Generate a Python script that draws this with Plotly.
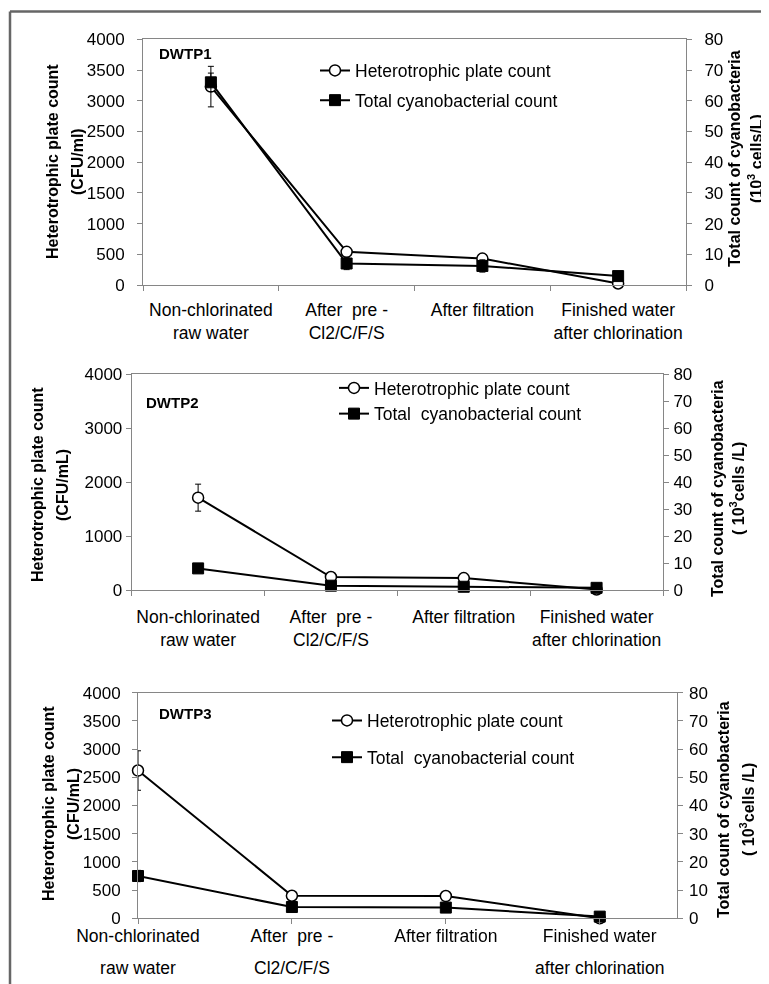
import plotly.graph_objects as go

# ---------------- data ----------------
cat_line1 = ["Non-chlorinated", "After  pre -", "After filtration", "Finished water"]
cat_line2 = ["raw water", "Cl2/C/F/S", "", "after chlorination"]
categories = [a + " " + b for a, b in zip(cat_line1, cat_line2)]
cat_index = list(range(len(categories)))

plant_labels = ["DWTP1", "DWTP2", "DWTP3"]
hpc_names = ["Heterotrophic plate count"] * 3
cyano_names = ["Total cyanobacterial count", "Total  cyanobacterial count", "Total  cyanobacterial count"]
left_titles = [["Heterotrophic plate count", "(CFU/ml)"],
               ["Heterotrophic plate count", "(CFU/mL)"],
               ["Heterotrophic plate count", "(CFU/mL)"]]
right_titles = [["Total count of cyanobacteria", "(10<sup>3</sup> cells/L)"],
                ["Total count of cyanobacteria", "( 10<sup>3</sup>cells /L)"],
                ["Total count of cyanobacteria", "( 10<sup>3</sup>cells /L)"]]

hpc1 = [3230, 540, 430, 25]
hpc1_err = [330, 30, 40, 5]
cyano1 = [66, 7.0, 6.2, 2.9]
cyano1_err = [3, 2, 2, 0.5]

hpc2 = [1710, 240, 220, 10]
hpc2_err = [250, 20, 30, 0]
cyano2 = [8.0, 1.6, 1.2, 0.8]
cyano2_err = [0, 0.5, 0.5, 0]

hpc3 = [2620, 400, 395, 0]
hpc3_err = [350, 20, 20, 0]
cyano3 = [15.0, 4.0, 3.8, 0.6]
cyano3_err = [2, 0.3, 0.3, 0]

left_dticks = [500, 1000, 500]
right_ticks = [0, 10, 20, 30, 40, 50, 60, 70, 80]

# ---------------- layout geometry (reference pixels) ----------------
OFF = 8                      # page body margin
W, H = 769 - OFF, 984 - OFF
FONT = "Liberation Sans, Arial, sans-serif"
AXC = "#868686"
TICK_FS = 17
LAB_FS = 17.5
TITLE_FS = 16

panels = [
    dict(x0=143, x1=686, y0=39.3, y1=285, xrange=[-0.5, 3.5], tickson="boundaries",
         std1=9, std2=27, lstd=9, rstd=9,
         leg=(315, 52.5, 4), lab=(157, 54),
         lt=(52, 77, 162), rt=(735, 755, 159)),
    dict(x0=131.7, x1=663, y0=374, y1=590, xrange=[-0.5, 3.5], tickson="boundaries",
         std1=11, std2=29, lstd=0, rstd=1,
         leg=(334, 370, 0), lab=(144, 403),
         lt=(37, 62, 485), rt=(717, 737, 489)),
    dict(x0=138, x1=676.7, y0=692.7, y1=918.3, xrange=[0, 3.5], tickson="labels",
         std1=-3, std2=29, lstd=8, rstd=3,
         leg=(327, 702.5, 11), lab=(157, 713),
         lt=(48, 73, 804), rt=(723, 747, 810)),
]

data = [(hpc1, hpc1_err, cyano1, cyano1_err),
        (hpc2, hpc2_err, cyano2, cyano2_err),
        (hpc3, hpc3_err, cyano3, cyano3_err)]

fig = go.Figure()
layout = dict(width=W, height=H, margin=dict(l=0, r=0, t=0, b=0, autoexpand=False),
              paper_bgcolor="white", plot_bgcolor="white",
              font=dict(family=FONT, size=TICK_FS, color="black"),
              showlegend=True)
annotations = []
shapes = []

def px(x):
    return (x - OFF) / W

def py(y):
    return 1 - (y - OFF) / H

for i, (p, d) in enumerate(zip(panels, data)):
    xa = "x" if i == 0 else f"x{i+1}"
    xo = f"x{i+4}"
    ya = "y" if i == 0 else f"y{2*i+1}"
    yb = f"y{2*i+2}"
    leg = "legend" if i == 0 else f"legend{i+1}"
    hpc, hpc_err, cy, cy_err = d

    fig.add_trace(go.Scatter(
        x=categories, y=hpc, xaxis=xa, yaxis=ya, name=hpc_names[i],
        mode="lines+markers", legend=leg, legendgroup=f"a{i}",
        line=dict(color="black", width=2),
        marker=dict(symbol="circle", size=11, color="white", line=dict(color="black", width=1.5)),
        error_y=dict(type="data", array=hpc_err, visible=True, color="black", thickness=1, width=3),
        cliponaxis=False))
    fig.add_trace(go.Scatter(
        x=categories, y=cy, xaxis=xa, yaxis=yb, name=cyano_names[i],
        mode="lines+markers", legend=leg, legendgroup=f"b{i}",
        line=dict(color="black", width=2),
        marker=dict(symbol="square", size=11, color="black", line=dict(color="black", width=1)),
        error_y=dict(type="data", array=cy_err, visible=True, color="black", thickness=1, width=3),
        cliponaxis=False))
    # invisible helper trace so the second-line label axis is drawn
    fig.add_trace(go.Scatter(
        x=cat_index, y=hpc, xaxis=xo, yaxis=ya, mode="markers", opacity=0,
        marker=dict(size=1), showlegend=False, hoverinfo="skip"))

    xdom = [px(p["x0"]), px(p["x1"])]
    ydom = [py(p["y1"]), py(p["y0"])]
    xkey = "xaxis" if i == 0 else f"xaxis{i+1}"
    layout[xkey] = dict(
        domain=xdom, anchor=ya, type="category", categoryorder="array", categoryarray=categories,
        range=p["xrange"], tickson=p["tickson"], tickmode="array", tickvals=categories,
        ticktext=cat_line1, ticks="outside", ticklen=5, tickcolor=AXC, showline=True,
        linecolor=AXC, linewidth=1, mirror=True, showgrid=False, zeroline=False,
        tickangle=0, automargin=False,
        ticklabelstandoff=p["std1"], tickfont=dict(size=LAB_FS, family=FONT, color="black"))
    layout[f"xaxis{i+4}"] = dict(
        overlaying=xa, anchor=ya, side="bottom", type="linear", range=p["xrange"],
        tickmode="array", tickvals=cat_index, ticktext=cat_line2, ticks="outside",
        ticklen=5, tickcolor="rgba(0,0,0,0)", showline=False, showgrid=False, zeroline=False,
        tickangle=0, automargin=False,
        ticklabelstandoff=p["std2"], tickfont=dict(size=LAB_FS, family=FONT, color="black"))
    yk1 = "yaxis" if i == 0 else f"yaxis{2*i+1}"
    yk2 = f"yaxis{2*i+2}"
    layout[yk1] = dict(
        domain=ydom, anchor=xa, range=[0, 4000], dtick=left_dticks[i], ticks="outside",
        ticklen=5, tickcolor=AXC, showline=True, linecolor=AXC, linewidth=1,
        showgrid=False, zeroline=False, ticklabelstandoff=p["lstd"], automargin=False,
        tickfont=dict(size=TICK_FS, family=FONT, color="black"))
    layout[yk2] = dict(
        overlaying=ya, anchor=xa, side="right", range=[0, 80], tickmode="array",
        tickvals=right_ticks, ticks="outside", ticklen=5, tickcolor=AXC, showline=True,
        linecolor=AXC, linewidth=1, showgrid=False, zeroline=False, automargin=False,
        ticklabelstandoff=p["rstd"], tickfont=dict(size=TICK_FS, family=FONT, color="black"))
    lx, ly, gap = p["leg"]
    layout[leg] = dict(x=px(lx), y=py(ly), xanchor="left", yanchor="top",
                       bgcolor="rgba(0,0,0,0)", borderwidth=0, tracegroupgap=gap,
                       traceorder="grouped", font=dict(size=LAB_FS, family=FONT, color="black"),
                       itemwidth=30)
    # panel label
    annotations.append(dict(x=px(p["lab"][0]), y=py(p["lab"][1]), xref="paper", yref="paper",
                            xanchor="left", yanchor="middle", showarrow=False,
                            text=f"<b>{plant_labels[i]}</b>", font=dict(size=15, family=FONT)))
    # axis titles
    l1, l2, lyc = p["lt"]
    for xx, t in zip([l1, l2], left_titles[i]):
        annotations.append(dict(x=px(xx), y=py(lyc), xref="paper", yref="paper",
                                xanchor="center", yanchor="middle", showarrow=False,
                                textangle=-90, text=f"<b>{t}</b>",
                                font=dict(size=TITLE_FS, family=FONT)))
    r1, r2, ryc = p["rt"]
    for xx, t in zip([r1, r2], right_titles[i]):
        annotations.append(dict(x=px(xx), y=py(ryc), xref="paper", yref="paper",
                                xanchor="center", yanchor="middle", showarrow=False,
                                textangle=-90, text=f"<b>{t}</b>",
                                font=dict(size=TITLE_FS, family=FONT)))

# outer frame (top & left)
shapes.append(dict(type="line", xref="paper", yref="paper", x0=px(10), x1=1,
                   y0=py(11.5), y1=py(11.5), line=dict(color="#666666", width=2.5)))
shapes.append(dict(type="line", xref="paper", yref="paper", x0=px(10), x1=px(10),
                   y0=py(11.5), y1=0, line=dict(color="#666666", width=2.5)))

layout["annotations"] = annotations
layout["shapes"] = shapes
fig.update_layout(**layout)
fig.write_html("out.html")
